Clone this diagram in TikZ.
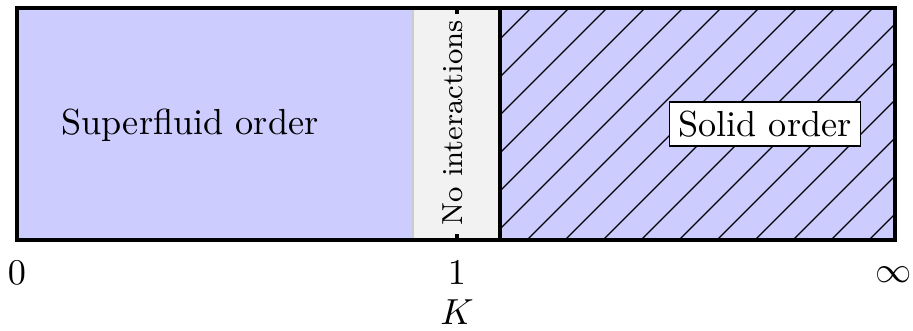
\documentclass[tikz,border=0pt]{standalone}
\usepackage{amsmath}
\begin{document}
\begin{tikzpicture}[x=0.2762pt,y=-0.2762pt,
  frame/.style={line width=0.9pt},
  hatchline/.style={line width=0.3pt},
  lbl/.style={inner sep=0pt}]
\useasboundingbox (0,0) rectangle (913,331);
% regions
\fill[blue!20] (17,8) rectangle (895,240);
\fill[gray!10] (413,8) rectangle (500,240);
\draw[gray!40, line width=0.6pt] (413,8) -- (413,240);
% hatch
\begin{scope}
\clip (500,8) rectangle (895,240);
\foreach \x in {261,299,...,900} {
  \draw[hatchline] (\x,240) -- ++(240,-240);
}
\end{scope}
\draw[frame] (500,8) -- (500,240);
\draw[frame] (17,8) rectangle (895,240);
% ticks
\draw[frame] (457,8) -- (457,14);
\draw[frame] (457,234) -- (457,240);
% labels
\node[lbl] (sf) at (190,125) {Superfluid order};
\node[lbl, rotate=90, font=\footnotesize] (ni) at (453,123) {No interactions};
\node[draw, fill=white, line width=0.4pt, inner sep=2.5pt] (so) at (765,124) {Solid order};
\node[lbl] (z) at (17,273) {$0$};
\node[lbl] (o) at (457,273) {$1$};
\node[lbl] (inf) at (894,275) {$\infty$};
\node[lbl] (k) at (457,312) {$K$};
\end{tikzpicture}
\end{document}
